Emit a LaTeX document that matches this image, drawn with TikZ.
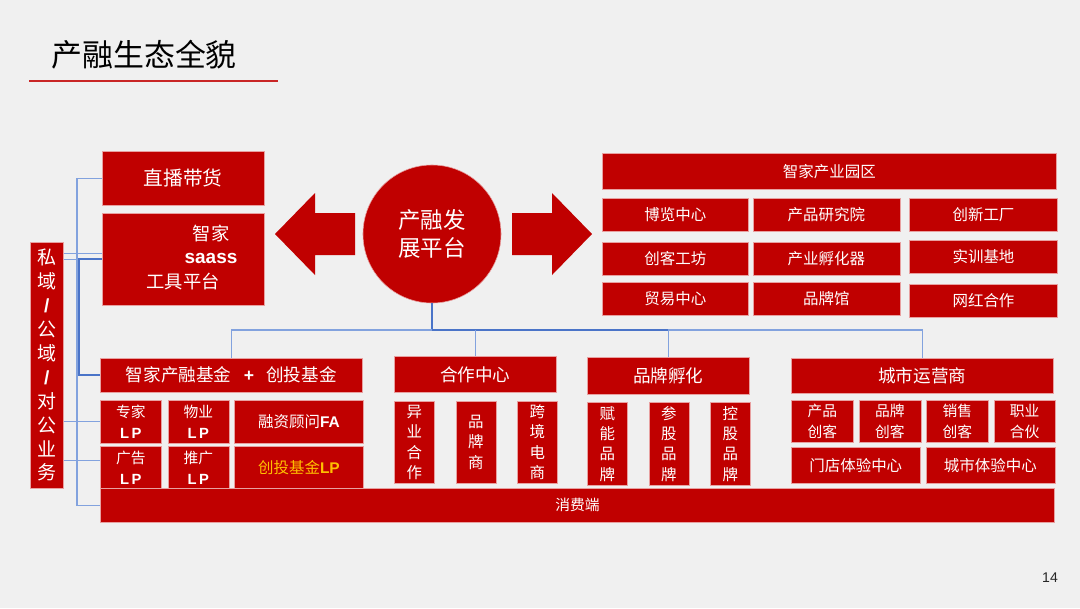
\documentclass[tikz,border=0pt]{standalone}
\usepackage{fontspec}
\setmainfont{Noto Sans CJK SC}
\newfontfamily\latfont{Liberation Sans}
\usetikzlibrary{positioning, calc}
\definecolor{bgc}{HTML}{F0F0F0}
\definecolor{brand}{HTML}{C00000}
\definecolor{edge}{HTML}{E8A0A0}
\definecolor{linkc}{HTML}{82A2DE}
\definecolor{linkd}{HTML}{4A74C8}
\definecolor{gold}{HTML}{FFC000}
\newcommand{\bLP}{{\latfont\bfseries L\,P}}
\tikzset{wh/.style 2 args={minimum width=#1, minimum height=#2}}

\begin{document}
\begin{tikzpicture}[
    x=0.025cm, y=-0.025cm,
    box/.style={rectangle, fill=brand, draw=edge, line width=0.4pt, inner sep=0pt,
                text=white, align=center, anchor=north west,
                font=\fontsize{11}{13}\selectfont},
    head/.style={box, font=\fontsize{12.5}{15}\selectfont},
    vert/.style={box, font=\fontsize{11}{14.5}\selectfont},
    duo/.style={box, font=\fontsize{10.5}{15}\selectfont},
    lbl/.style={text=white, inner sep=0pt},
    link/.style={draw=linkc, line width=0.9pt},
    trunk/.style={draw=linkd, line width=1.2pt},
]
\useasboundingbox (0,0) rectangle (1080,608);
\fill[bgc] (0,0) rectangle (1080,608);

% Title
\node[anchor=west, inner sep=0pt, font=\fontsize{22}{26}\selectfont] (title) at (51,55) {产融生态全貌};
\draw[brand!85, line width=0.8pt] (29,81) -- (278,81);
\node[font=\latfont\fontsize{10}{12}\selectfont, text=black!85] (page) at (1050,578) {14};

% Left side
\node[box, wh={0.825cm}{6.15cm}, font=\fontsize{13.5}{17}\selectfont] (pub) at (30,242)
    {私\\域\\{\latfont\bfseries /}\\公\\域\\{\latfont\bfseries /}\\对\\公\\业\\务};
\node[box, wh={4.05cm}{1.35cm}, font=\fontsize{14}{16}\selectfont] (zhibo) at (102,151) {直播带货};
\node[box, wh={4.05cm}{2.3cm}] (saas) at (102,213) {};
\node[lbl, font=\fontsize{13}{15}\selectfont] (saasa) at ($(saas.north west)+(109,20)$) {智家};
\node[lbl, font=\latfont\bfseries\fontsize{13.5}{15}\selectfont] (saasb) at ($(saas.north west)+(109,45)$) {saass};
\node[lbl, font=\fontsize{13}{15}\selectfont] (saasc) at ($(saas.north west)+(81,69)$) {工具平台};

% Hub and arrows
\node[circle, fill=brand, draw=edge, line width=0.4pt, minimum size=3.45cm, inner sep=0pt,
      text=white, align=center, font=\fontsize{16}{20}\selectfont] (hub) at (432,234) {产融发\\展平台};
\fill[brand] (275,234) -- (315,193) -- (315,213) -- (355,213) -- (355,255) -- (315,255) -- (315,275) -- cycle;
\fill[brand] (592,234) -- (552,193) -- (552,213) -- (512,213) -- (512,255) -- (552,255) -- (552,275) -- cycle;

% Industrial park
\node[box, wh={11.35cm}{0.9cm}] (park) at (602,153) {智家产业园区};
\node[box, wh={3.65cm}{0.825cm}] (bolan) at (602,198) {博览中心};
\node[box, wh={3.675cm}{0.825cm}, right=0.1cm of bolan] (yanjiu) {产品研究院};
\node[box, wh={3.7cm}{0.825cm}, right=0.225cm of yanjiu] (chuangxin) {创新工厂};
\node[box, wh={3.65cm}{0.825cm}, below=0.25cm of bolan] (gongfang) {创客工坊};
\node[box, wh={3.675cm}{0.825cm}, below=0.25cm of yanjiu] (fuhuaqi) {产业孵化器};
\node[box, wh={3.7cm}{0.825cm}, below=0.2cm of chuangxin] (shixun) {实训基地};
\node[box, wh={3.65cm}{0.825cm}, below=0.175cm of gongfang] (maoyi) {贸易中心};
\node[box, wh={3.675cm}{0.825cm}, below=0.175cm of fuhuaqi] (pinpaiguan) {品牌馆};
\node[box, wh={3.7cm}{0.825cm}, below=0.275cm of shixun] (wanghong) {网红合作};

% Funds
\node[head, wh={6.55cm}{0.85cm}] (fund) at (100,358)
    {智家产融基金\hspace{0.7em}{\latfont\bfseries +}\hspace{0.7em}创投基金};
\node[duo, wh={1.525cm}{1.075cm}] (zhuanjia) at (100,400) {专家\\\bLP};
\node[duo, wh={1.525cm}{1.075cm}, right=0.15cm of zhuanjia] (wuye) {物业\\\bLP};
\node[box, wh={3.225cm}{1.075cm}, right=0.125cm of wuye] (rongzi) {融资顾问{\latfont\bfseries FA}};
\node[duo, wh={1.525cm}{1.075cm}, below=0.05cm of zhuanjia] (guanggao) {广告\\\bLP};
\node[duo, wh={1.525cm}{1.075cm}, below=0.05cm of wuye] (tuiguang) {推广\\\bLP};
\node[box, wh={3.225cm}{1.075cm}, below=0.05cm of rongzi, text=gold] (ctlp) {创投基金{\latfont\bfseries LP}};
\node[box, wh={23.85cm}{0.85cm}, font=\fontsize{10.5}{12}\selectfont] (consumer) at (100,488) {消费端};

% Cooperation centre
\node[head, wh={4.05cm}{0.9cm}] (hezuo) at (394,356) {合作中心};
\node[vert, wh={1cm}{2.05cm}] (yiye) at (394,401) {异\\业\\合\\作};
\node[vert, wh={1cm}{2.05cm}, right=0.525cm of yiye] (pinpaishang) {品\\牌\\商};
\node[vert, wh={1cm}{2.05cm}, right=0.525cm of pinpaishang] (kuajing) {跨\\境\\电\\商};

% Brand incubation
\node[head, wh={4.05cm}{0.925cm}] (brandinc) at (587,357) {品牌孵化};
\node[vert, wh={1cm}{2.075cm}] (funeng) at (587,402) {赋\\能\\品\\牌};
\node[vert, wh={1cm}{2.075cm}, right=0.525cm of funeng] (cangu) {参\\股\\品\\牌};
\node[vert, wh={1cm}{2.075cm}, right=0.525cm of cangu] (konggu) {控\\股\\品\\牌};

% City operators
\node[head, wh={6.55cm}{0.875cm}] (city) at (791,358) {城市运营商};
\node[duo, wh={1.55cm}{1.05cm}] (cpck) at (791,400) {产品\\创客};
\node[duo, wh={1.55cm}{1.05cm}, right=0.125cm of cpck] (ppck) {品牌\\创客};
\node[duo, wh={1.55cm}{1.05cm}, right=0.125cm of ppck] (xsck) {销售\\创客};
\node[duo, wh={1.525cm}{1.05cm}, right=0.125cm of xsck] (zyhh) {职业\\合伙};
\node[box, wh={3.225cm}{0.9cm}] (mendian) at (791,447) {门店体验中心};
\node[box, wh={3.225cm}{0.9cm}, right=0.125cm of mendian] (chengshi) {城市体验中心};

% Connections
\coordinate (bus) at (432,330);
\draw[trunk] (hub.south) -- (bus);
\draw[link] (bus) -| (fund.north);
\draw[trunk] (bus) -- (bus -| brandinc.north);
\draw[link] (bus -| brandinc.north) -| (city.north);
\draw[link] (bus -| hezuo.north) -- (hezuo.north);
\draw[link] (bus -| brandinc.north) -- (brandinc.north);

\draw[link] (zhibo.west) -- ++(-25,0) |- (consumer.west);
\draw[link] ([yshift=0.15cm]saas.west -| pub.east) -- ([yshift=0.15cm]saas.west);
\draw[link] (saas.west -| pub.east) -- (saas.west);
\draw[trunk] (saas.west) -- ++(-23,0) |- (fund.west);
\draw[link] (pub.east |- zhuanjia.west) -- (zhuanjia.west);
\draw[link] ([yshift=0.175cm]guanggao.west -| pub.east) -- ([yshift=0.175cm]guanggao.west);

\end{tikzpicture}
\end{document}
